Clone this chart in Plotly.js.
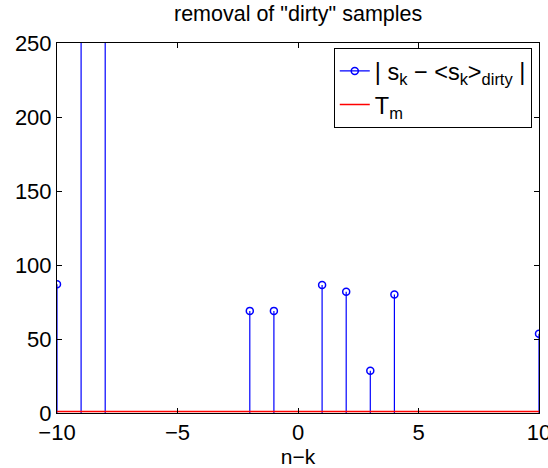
<!DOCTYPE html>
<html>
<head>
<meta charset="utf-8">
<script src="https://cdn.plot.ly/plotly-3.0.1.min.js"></script>
<style>html,body{margin:0;padding:0;background:#fff;}#chart{width:548px;height:468px;}</style>
</head>
<body>
<div id="chart"></div>
<script>
// data
var lags = [-10, -9, -8, -2, -1, 1, 2, 3, 4, 10];
var deviation = [87, 600, 600, 69, 69, 86.5, 82, 28.5, 80, 53.5];
var thresholdX = [-10, 10];
var thresholdY = [1, 1];
var xTicks = [-10, -5, 0, 5, 10];
var yTicks = [0, 50, 100, 150, 200, 250];

// build stems (value -> base) from the data arrays
var BLUE = '#0000ff', NONE = 'rgba(0,0,0,0)';
var stemX = [], stemY = [], stemColor = [];
for (var i = 0; i < lags.length; i++) {
  stemX.push(lags[i], lags[i], null);
  stemY.push(deviation[i], 0, null);
  stemColor.push(BLUE, NONE, NONE);
}

var traces = [
  {
    x: stemX, y: stemY, type: 'scatter', mode: 'lines+markers',
    name: '| s<sub>k</sub> − &lt;s<sub>k</sub>&gt;<sub>dirty</sub> |',
    line: {color: BLUE, width: 1.2},
    marker: {symbol: 'circle-open', size: 7, color: stemColor, line: {width: 1.5, color: stemColor}},
    connectgaps: false, cliponaxis: true
  },
  {
    x: thresholdX, y: thresholdY, type: 'scatter', mode: 'lines',
    name: 'T<sub>m</sub>',
    line: {color: '#ff0000', width: 1.5}
  }
];

var FONT = 'Liberation Sans, Arial, sans-serif';
var axisCommon = {
  showline: true, linecolor: '#000', linewidth: 1, mirror: 'ticks',
  ticks: 'inside', ticklen: 5, tickcolor: '#000', showgrid: false, zeroline: false,
  ticklabeloverflow: 'allow',
  tickfont: {family: FONT, size: 22, color: '#000'}
};

var layout = {
  width: 548, height: 468,
  margin: {l: 57, r: 9, t: 43, b: 55},
  paper_bgcolor: '#fff', plot_bgcolor: '#fff',
  font: {family: FONT, color: '#000'},
  title: {text: 'removal of "dirty" samples', font: {size: 21.5, color: '#000'}, x: 0.5440, xanchor: 'center', y: 0.972, yanchor: 'middle'},
  xaxis: Object.assign({}, axisCommon, {range: [-10, 10], tickmode: 'array', tickvals: xTicks,
    ticktext: xTicks.map(function (v) { return v < 0 ? '\u2212' + Math.abs(v) : String(v); }),
    title: {text: 'n−k', font: {size: 21, color: '#000'}, standoff: 0}}),
  yaxis: Object.assign({}, axisCommon, {range: [0, 250], tickmode: 'array', tickvals: yTicks}),
  showlegend: true,
  legend: {x: 0.985, xanchor: 'right', y: 0.986, yanchor: 'top', bgcolor: '#fff',
    bordercolor: '#000', borderwidth: 1, font: {family: FONT, size: 23.5, color: '#000'},
    tracegroupgap: 0, itemwidth: 30}
};

Plotly.newPlot('chart', traces, layout, {displayModeBar: false, staticPlot: true});
</script>
</body>
</html>
